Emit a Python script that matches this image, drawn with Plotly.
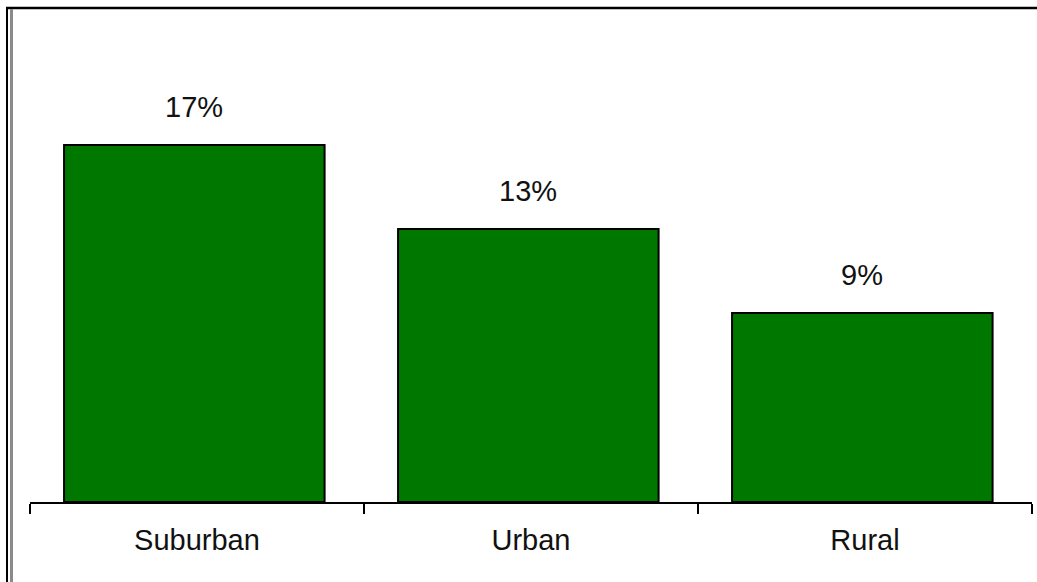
import plotly.graph_objects as go

categories = ["Suburban", "Urban", "Rural"]
values = [17, 13, 9]
value_labels = ["17%", "13%", "9%"]

W, H = 1037, 582
ML, MR, MT, MB = 30, 5, 20, 80
plot_w = W - ML - MR
plot_h = H - MT - MB
FONT = "Liberation Sans, Arial, sans-serif"

fig = go.Figure()
fig.add_trace(go.Bar(
    x=categories, y=values, width=0.78, offset=-0.398,
    marker=dict(color="#007800", line=dict(color="#000000", width=2)),
    hoverinfo="skip",
))

for c, v, t in zip(categories, values, value_labels):
    fig.add_annotation(x=c, y=v, text=t, showarrow=False, yanchor="middle",
                       xshift=-3, yshift=38,
                       font=dict(size=29, color="#111111", family=FONT))

def px_x(px):
    return (px - ML) / plot_w

def px_y(py):
    return (H - MB - py) / plot_h

shapes = [
    dict(type="line", xref="paper", yref="paper", x0=px_x(6), x1=px_x(1040),
         y0=px_y(8), y1=px_y(8), line=dict(color="#000000", width=2.5)),
    dict(type="line", xref="paper", yref="paper", x0=px_x(7), x1=px_x(7),
         y0=px_y(7), y1=px_y(585), line=dict(color="#000000", width=2)),
    dict(type="line", xref="paper", yref="paper", x0=px_x(11.5), x1=px_x(11.5),
         y0=px_y(9), y1=px_y(585), line=dict(color="#8a8a8a", width=3)),
]

fig.update_layout(
    width=W, height=H,
    margin=dict(l=ML, r=MR, t=MT, b=MB, pad=0),
    paper_bgcolor="white", plot_bgcolor="white",
    showlegend=False,
    shapes=shapes,
    font=dict(family=FONT, size=29, color="#111111"),
    xaxis=dict(
        range=[-0.5, 2.5], showline=True, linecolor="#000000", linewidth=2,
        ticks="outside", tickson="boundaries", ticklen=10, tickwidth=2,
        tickcolor="#000000", showgrid=False, zeroline=False,
        tickfont=dict(size=29, color="#111111", family=FONT), ticklabelstandoff=11,
    ),
    yaxis=dict(range=[0, plot_h / 21.0], visible=False, showgrid=False, zeroline=False),
)

fig.write_html("out.html", config={"displayModeBar": False},
               post_script="document.body.style.margin='0';document.body.style.overflow='hidden';")
